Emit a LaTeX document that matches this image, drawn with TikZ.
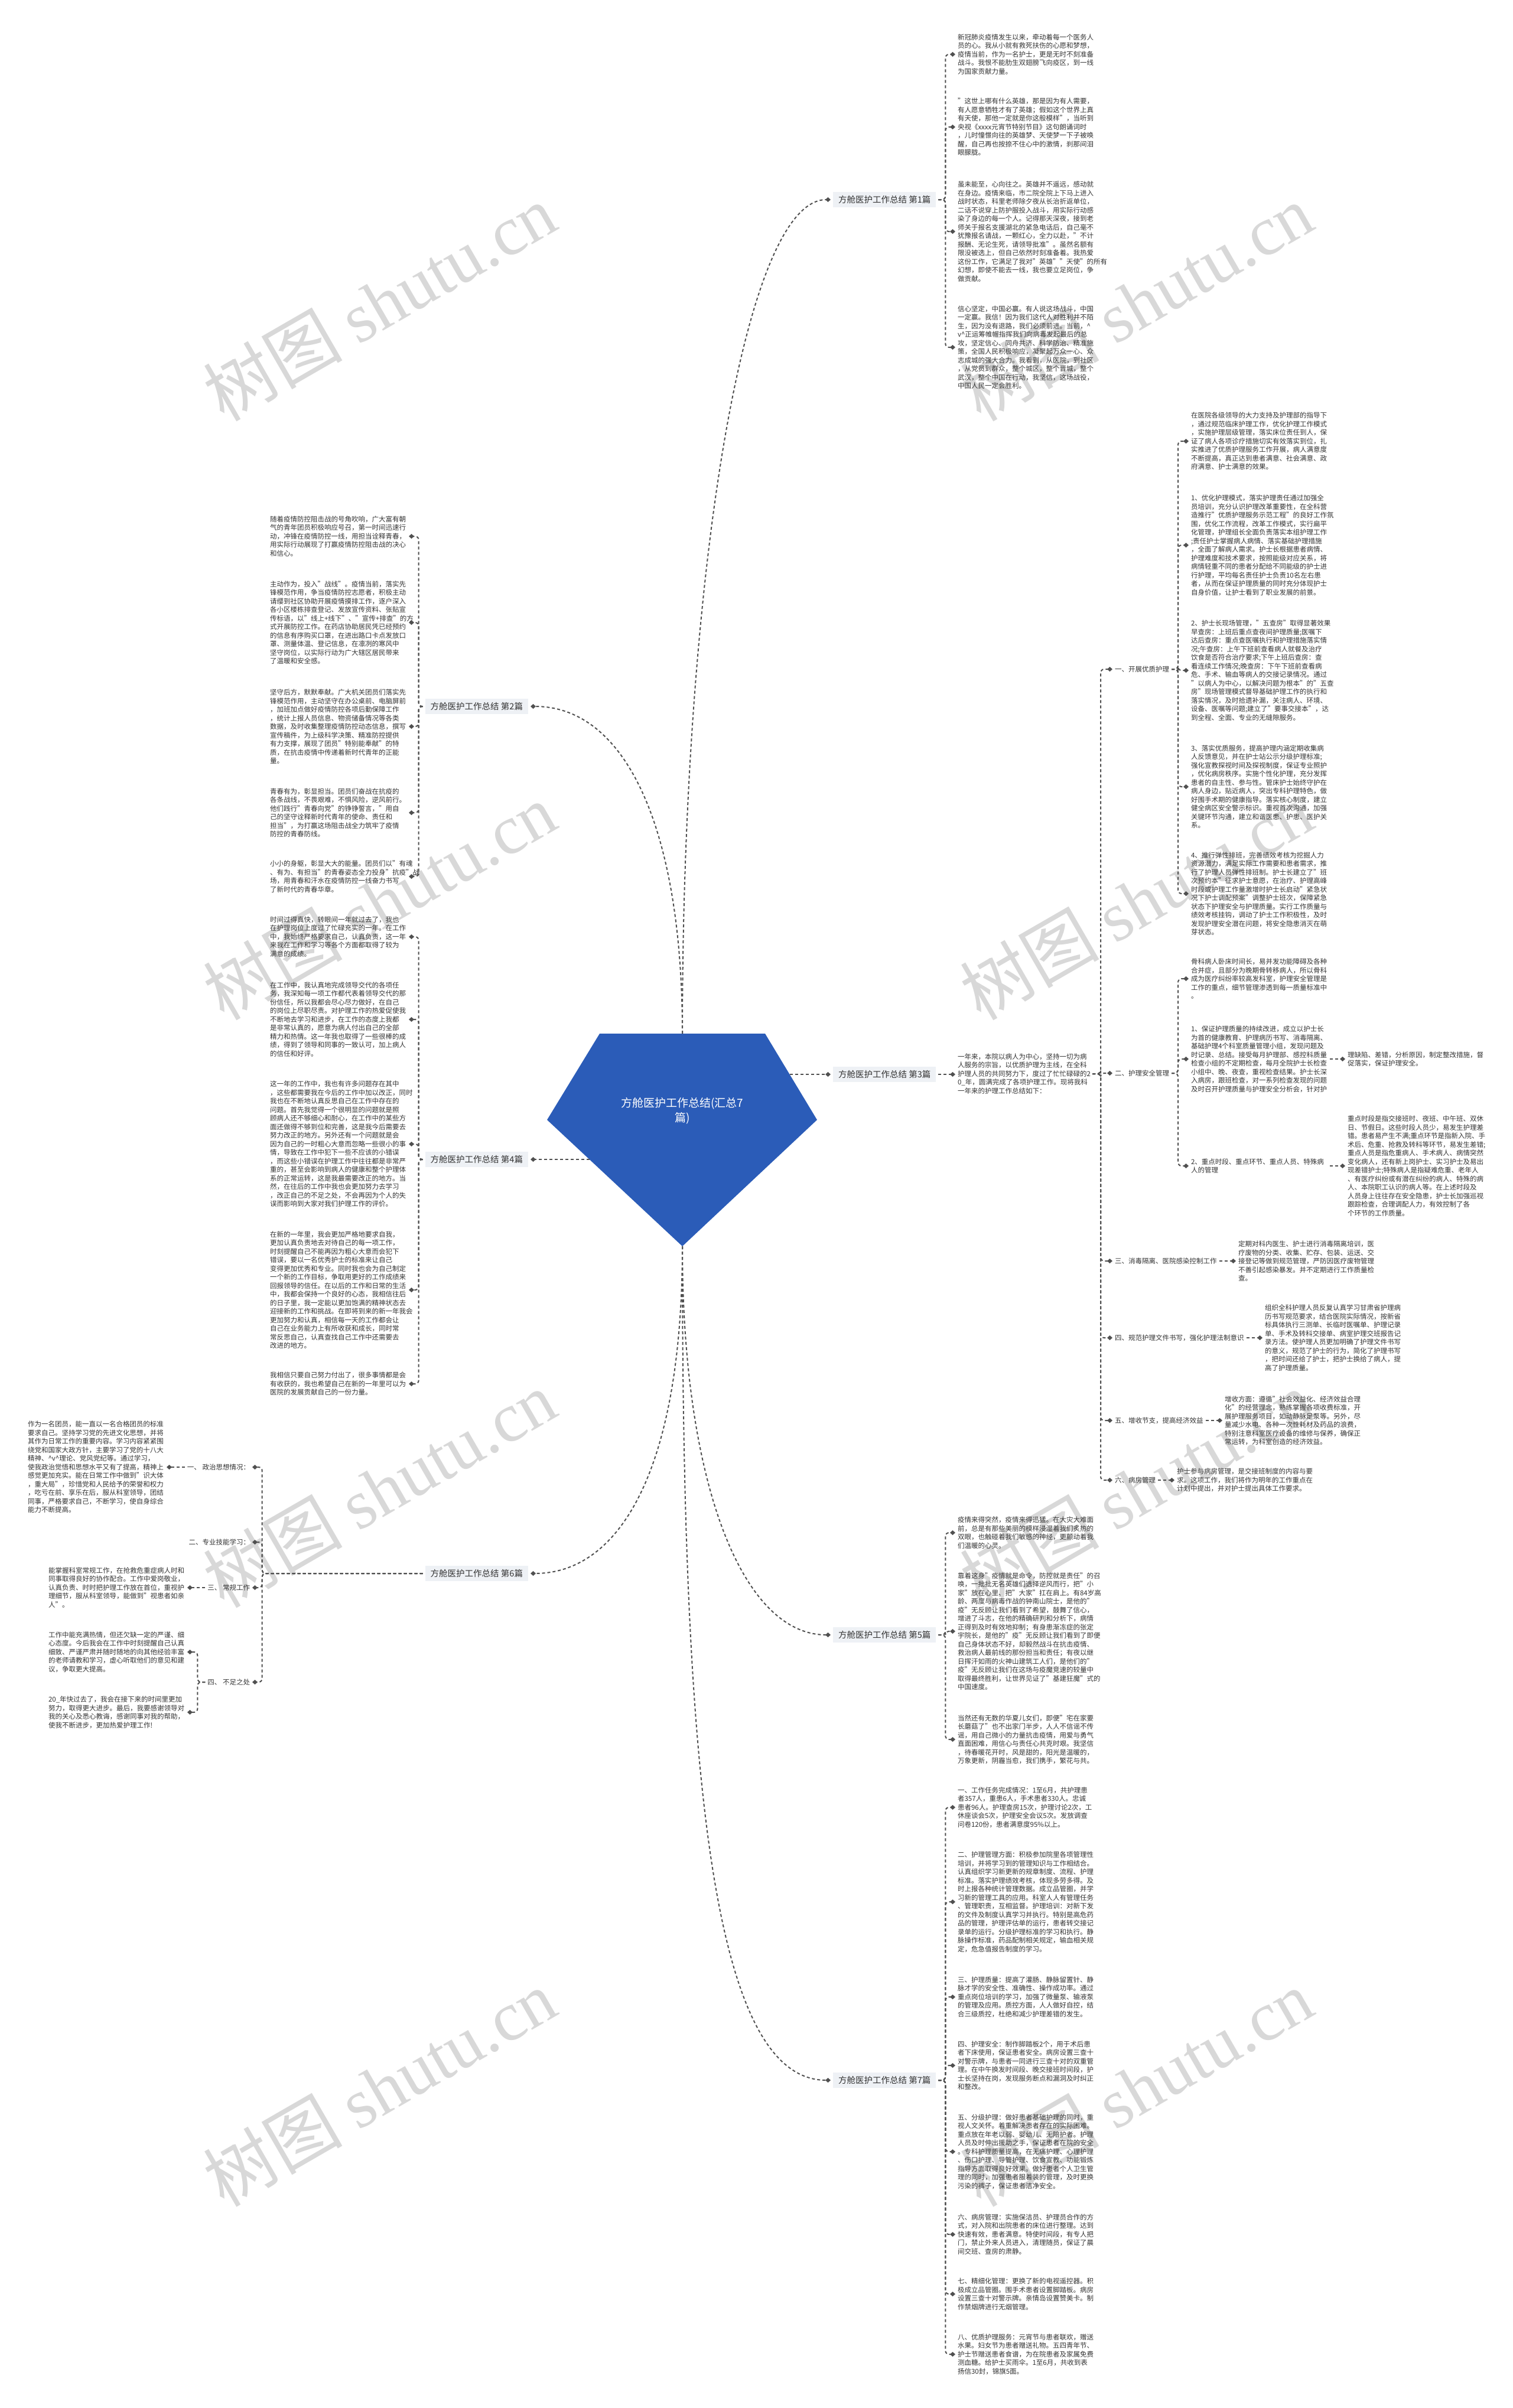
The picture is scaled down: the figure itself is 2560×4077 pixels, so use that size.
\documentclass[tikz,border=0pt]{standalone}
\usepackage{fontspec}
\setmainfont{Noto Sans CJK SC}
\newfontfamily\wmlat{Liberation Serif}
\usetikzlibrary{arrows.meta,calc}
\definecolor{txt}{HTML}{333333}
\definecolor{ln}{HTML}{505050}
\definecolor{lblbg}{HTML}{EEF1F5}
\definecolor{cblue}{HTML}{2B5CB8}
\definecolor{wmc}{HTML}{D8D8D8}
\newcommand{\crt}{\textasciicircum}
\tikzset{
 conn/.style={draw=ln, line width=2pt, dash pattern=on 5pt off 4pt, rounded corners=6pt, -{Diamond[length=9pt,width=8pt]}},
 body/.style={font=\fontsize{11.5}{14.5}\selectfont, text=txt, align=left, inner sep=0pt, outer sep=4pt},
 blk/.style={body, text width=231pt},
 branch/.style={fill=lblbg, font=\fontsize{14.5}{17}\selectfont, text=txt, inner xsep=9pt, inner ysep=6pt, outer sep=4pt},
 wmark/.style={text=wmc, rotate=30, inner sep=0pt, font=\fontsize{118}{118}\selectfont},
}
\begin{document}
\begin{tikzpicture}[x=1pt,y=-1pt]
\useasboundingbox (0,0) rectangle (2560,4077);
\fill[white] (0,0) rectangle (2560,4077);
% watermarks
\foreach \wx/\wy [count=\i] in {642/512,1923/512,642/1526,1923/1526,642/2521,1923/2521,642/3535,1923/3535}
  \node[wmark] (wm\i) at (\wx,\wy) {树图 {\wmlat shutu.cn}};

% central pentagon
\fill[cblue] (1015,1750) -- (1295,1750) -- (1383,1896) -- (1155,2110) -- (926,1896) -- cycle;
\node[font=\fontsize{19}{25}\selectfont, text=white, align=center] (center) at (1155,1881) {方舱医护工作总结(汇总7\\篇)};
\coordinate (ctop) at (1155,1750);
\coordinate (cbot) at (1155,2110);
\coordinate (cright) at (1337,1819);
\coordinate (cleft) at (998,1963);

% branch labels
\node[branch, anchor=west] (L1) at (1406,338) {方舱医护工作总结 第1篇};
\node[branch, anchor=east] (L2) at (898,1196) {方舱医护工作总结 第2篇};
\node[branch, anchor=west] (L3) at (1406,1819) {方舱医护工作总结 第3篇};
\node[branch, anchor=east] (L4) at (898,1963) {方舱医护工作总结 第4篇};
\node[branch, anchor=west] (L5) at (1406,2768) {方舱医护工作总结 第5篇};
\node[branch, anchor=east] (L6) at (898,2664) {方舱医护工作总结 第6篇};
\node[branch, anchor=west] (L7) at (1406,3522) {方舱医护工作总结 第7篇};

\draw[conn] (ctop) .. controls ($(ctop)+(0,-750)$) and ($(L1.west)+(-150,0)$) .. (L1.west);
\draw[conn] (ctop) .. controls ($(ctop)+(0,-350)$) and ($(L2.east)+(160,0)$) .. (L2.east);
\draw[conn] (cright) -- (L3.west);
\draw[conn] (cleft) -- (L4.east);
\draw[conn] (cbot) .. controls ($(cbot)+(0,380)$) and ($(L6.east)+(150,0)$) .. (L6.east);
\draw[conn] (cbot) .. controls ($(cbot)+(0,400)$) and ($(L5.west)+(-150,0)$) .. (L5.west);
\draw[conn] (cbot) .. controls ($(cbot)+(0,900)$) and ($(L7.west)+(-200,0)$) .. (L7.west);

% ---------- 第1篇
\node[blk, anchor=west] (p11) at (1617,92) {新冠肺炎疫情发生以来，牵动着每一个医务人\\员的心。我从小就有救死扶伤的心愿和梦想，\\疫情当前，作为一名护士，更是无时不刻准备\\战斗。我恨不能肋生双翅膀飞向疫区，到一线\\为国家贡献力量。};
\node[blk, anchor=west] (p12) at (1617,215) {"这世上哪有什么英雄，那是因为有人需要，\\有人愿意牺牲才有了英雄；假如这个世界上真\\有天使，那他一定就是你这般模样"，当听到\\央视《xxxx元宵节特别节目》这句朗诵词时\\，儿时憧憬向往的英雄梦、天使梦一下子被唤\\醒，自己再也按捺不住心中的激情，刹那间泪\\眼朦胧。};
\node[blk, anchor=west] (p13) at (1617,392) {虽未能至，心向往之。英雄并不遥远，感动就\\在身边。疫情来临，市二院全院上下马上进入\\战时状态，科里老师除夕夜从长治折返单位，\\二话不说穿上防护服投入战斗，用实际行动感\\染了身边的每一个人。记得那天深夜，接到老\\师关于报名支援湖北的紧急电话后，自己毫不\\犹豫报名请战，一颗红心，全力以赴，"不计\\报酬、无论生死，请领导批准"。虽然名额有\\限没被选上，但自己依然时刻准备着。我热爱\\这份工作，它满足了我对"英雄""天使"的所有\\幻想，即使不能去一线，我也要立足岗位，争\\做贡献。};
\node[blk, anchor=west] (p14) at (1617,588) {信心坚定，中国必赢。有人说这场战斗，中国\\一定赢。我信！因为我们这代人对胜利并不陌\\生，因为没有退路，我们必须前进。当前，\crt\\v\crt 正运筹帷幄指挥我们向病毒发起最后的总\\攻，坚定信心、同舟共济、科学防治、精准施\\策，全国人民积极响应，凝聚起万众一心、众\\志成城的强大合力。我看到，从医院，到社区\\，从党员到群众，整个城区，整个晋城，整个\\武汉，整个中国在行动，我坚信，这场战役，\\中国人民一定会胜利。};
\foreach \c in {p11,p12,p13,p14} \draw[conn] (L1.east) -- ++(12,0) |- (\c.west);

% ---------- 第2篇
\node[blk, anchor=east] (a1) at (692,908) {随着疫情防控阻击战的号角吹响，广大富有朝\\气的青年团员积极响应号召，第一时间迅速行\\动，冲锋在疫情防控一线，用担当诠释青春，\\用实际行动展现了打赢疫情防控阻击战的决心\\和信心。};
\node[blk, anchor=east] (a2) at (692,1054) {主动作为，投入"战线"。疫情当前，落实先\\锋模范作用，争当疫情防控志愿者，积极主动\\请缨到社区协助开展疫情摸排工作，逐户深入\\各小区楼栋排查登记、发放宣传资料、张贴宣\\传标语，以"线上+线下"、"宣传+排查"的方\\式开展防控工作。在药店协助居民凭已经预约\\的信息有序购买口罩，在进出路口卡点发放口\\罩、测量体温、登记信息，在凛冽的寒风中\\坚守岗位，以实际行动为广大辖区居民带来\\了温暖和安全感。};
\node[blk, anchor=east] (a3) at (692,1230) {坚守后方，默默奉献。广大机关团员们落实先\\锋模范作用，主动坚守在办公桌前、电脑屏前\\，加班加点做好疫情防控各项后勤保障工作\\，统计上报人员信息、物资储备情况等各类\\数据，及时收集整理疫情防控动态信息，撰写\\宣传稿件，为上级科学决策、精准防控提供\\有力支撑，展现了团员"特别能奉献"的特\\质，在抗击疫情中传递着新时代青年的正能\\量。};
\node[blk, anchor=east] (a4) at (692,1376) {青春有为，彰显担当。团员们奋战在抗疫的\\各条战线，不畏艰难，不惧风险，逆风前行。\\他们践行"青春向党"的铮铮誓言，"用自\\己的坚守诠释新时代青年的使命、责任和\\担当"，为打赢这场阻击战全力筑牢了疫情\\防控的青春防线。};
\node[blk, anchor=east] (a5) at (692,1484) {小小的身躯，彰显大大的能量。团员们以"有魂\\、有为、有担当"的青春姿态全力投身"抗疫"战\\场，用青春和汗水在疫情防控一线奋力书写\\了新时代的青春华章。};
\foreach \c in {a1,a2,a3,a4,a5} \draw[conn] (L2.west) -- ++(-7,0) |- (\c.east);

% ---------- 第3篇
\node[body, text width=224pt, anchor=west] (i3) at (1617,1818) {一年来，本院以病人为中心，坚持一切为病\\人服务的宗旨，以优质护理为主线，在全科\\护理人员的共同努力下，度过了忙忙碌碌的2\\0\_年，圆满完成了各项护理工作。现将我科\\一年来的护理工作总结如下：};
\draw[conn] (L3.east) -- (L3.east -| i3.west);
\node[body, anchor=west] (s1) at (1883,1133) {一、开展优质护理};
\node[body, anchor=west] (s2) at (1883,1817) {二、护理安全管理};
\node[body, anchor=west] (s3) at (1883,2135) {三、消毒隔离、医院感染控制工作};
\node[body, anchor=west] (s4) at (1883,2265) {四、规范护理文件书写，强化护理法制意识};
\node[body, anchor=west] (s5) at (1883,2405) {五、增收节支，提高经济效益};
\node[body, anchor=west] (s6) at (1883,2506) {六、病房管理};
\foreach \c in {s1,s2,s3,s4,s5,s6} \draw[conn] (i3.east) -- ++(14,0) |- (\c.west);

\node[blk, anchor=west] (s1a) at (2012,747) {在医院各级领导的大力支持及护理部的指导下\\，通过规范临床护理工作，优化护理工作模式\\，实施护理层级管理，落实床位责任到人，保\\证了病人各项诊疗措施切实有效落实到位，扎\\实推进了优质护理服务工作开展，病人满意度\\不断提高，真正达到患者满意、社会满意、政\\府满意、护士满意的效果。};
\node[blk, anchor=west] (s1b) at (2012,923) {1、优化护理模式，落实护理责任通过加强全\\员培训，充分认识护理改革重要性，在全科营\\造推行"优质护理服务示范工程"的良好工作氛\\围，优化工作流程，改革工作模式，实行扁平\\化管理，护理组长全面负责落实本组护理工作\\;责任护士掌握病人病情、落实基础护理措施\\，全面了解病人需求。护士长根据患者病情、\\护理难度和技术要求，按照能级对应关系，将\\病情轻重不同的患者分配给不同能级的护士进\\行护理，平均每名责任护士负责10名左右患\\者，从而在保证护理质量的同时充分体现护士\\自身价值，让护士看到了职业发展的前景。};
\node[blk, anchor=west] (s1c) at (2012,1135) {2、护士长现场管理，"五查房"取得显著效果\\早查房：上班后重点查夜间护理质量;医嘱下\\达后查房：重点查医嘱执行和护理措施落实情\\况;午查房：上午下班前查看病人就餐及治疗\\饮食是否符合治疗要求;下午上班后查房：查\\看连续工作情况;晚查房：下午下班前查看病\\危、手术、输血等病人的交接记录情况。通过\\"以病人为中心，以解决问题为根本"的"五查\\房"现场管理模式督导基础护理工作的执行和\\落实情况，及时拾遗补漏，关注病人、环境、\\设备、医嘱等问题;建立了"要事交接本"，达\\到全程、全面、专业的无缝隙服务。};
\node[blk, anchor=west] (s1d) at (2012,1332) {3、落实优质服务，提高护理内涵定期收集病\\人反馈意见，并在护士站公示分级护理标准;\\强化宣教探视时间及探视制度，保证专业照护\\，优化病房秩序。实施个性化护理，充分发挥\\患者的自主性、参与性。管床护士始终守护在\\病人身边，贴近病人，突出专科护理特色，做\\好围手术期的健康指导。落实核心制度，建立\\健全病区安全警示标识。重视首次沟通，加强\\关键环节沟通，建立和谐医患、护患、医护关\\系。};
\node[blk, anchor=west] (s1e) at (2012,1513) {4、推行弹性排班，完善绩效考核为挖掘人力\\资源潜力，满足实际工作需要和患者需求，推\\行了护理人员弹性排班制。护士长建立了"班\\次预约本"征求护士意愿，在治疗、护理高峰\\时段或护理工作量激增时护士长启动"紧急状\\况下护士调配预案"调整护士班次，保障紧急\\状态下护理安全与护理质量。实行工作质量与\\绩效考核挂钩，调动了护士工作积极性，及时\\发现护理安全潜在问题，将安全隐患消灭在萌\\芽状态。};
\foreach \c in {s1a,s1b,s1c,s1d,s1e} \draw[conn] (s1.east) -- ++(11,0) |- (\c.west);

\node[blk, anchor=west] (s2a) at (2012,1657) {骨科病人卧床时间长，易并发功能障碍及各种\\合并症，且部分为晚期骨转移病人，所以骨科\\成为医疗纠纷率较高发科室，护理安全管理是\\工作的重点，细节管理渗透到每一质量标准中\\。};
\node[blk, anchor=west] (s2b) at (2012,1793) {1、保证护理质量的持续改进，成立以护士长\\为首的健康教育、护理病历书写、消毒隔离、\\基础护理4个科室质量管理小组，发现问题及\\时记录、总结。接受每月护理部、感控科质量\\检查小组的不定期检查，每月全院护士长检查\\小组中、晚、夜查，重视检查结果。护士长深\\入病房，跟班检查，对一系列检查发现的问题\\及时召开护理质量与护理安全分析会，针对护};
\node[blk, anchor=west] (s2c) at (2012,1974) {2、重点时段、重点环节、重点人员、特殊病\\人的管理};
\foreach \c in {s2a,s2b,s2c} \draw[conn] (s2.east) -- ++(11,0) |- (\c.west);
\node[blk, anchor=west] (s2br) at (2277,1793) {理缺陷、差错，分析原因，制定整改措施，督\\促落实，保证护理安全。};
\node[blk, anchor=west] (s2cr) at (2277,1974) {重点时段是指交接班时、夜班、中午班、双休\\日、节假日。这些时段人员少，易发生护理差\\错。患者易产生不满;重点环节是指新入院、手\\术后、危重、抢救及转科等环节，易发生差错;\\重点人员是指危重病人、手术病人、病情突然\\变化病人，还有新上岗护士、实习护士及易出\\现差错护士;特殊病人是指疑难危重、老年人\\、有医疗纠纷或有潜在纠纷的病人、特殊的病\\人、本院职工认识的病人等。在上述时段及\\人员身上往往存在安全隐患，护士长加强巡视\\跟踪检查，合理调配人力，有效控制了各\\个环节的工作质量。};
\draw[conn] (s2b.east) -- (s2b.east -| s2br.west);
\draw[conn] (s2c.east) -- (s2c.east -| s2cr.west);

\node[blk, anchor=west] (s3r) at (2092,2135) {定期对科内医生、护士进行消毒隔离培训，医\\疗废物的分类、收集、贮存、包装、运送、交\\接登记等做到规范管理，严防因医疗废物管理\\不善引起感染暴发。并不定期进行工作质量检\\查。};
\node[blk, anchor=west] (s4r) at (2137,2265) {组织全科护理人员反复认真学习甘肃省护理病\\历书写规范要求，结合医院实际情况，按新省\\标具体执行三测单、长临时医嘱单、护理记录\\单、手术及转科交接单、病室护理交班报告记\\录方法。使护理人员更加明确了护理文件书写\\的意义，规范了护士的行为，简化了护理书写\\，把时间还给了护士，把护士换给了病人，提\\高了护理质量。};
\node[blk, anchor=west] (s5r) at (2069,2405) {增收方面：遵循"社会效益化、经济效益合理\\化"的经营理念，熟练掌握各项收费标准，开\\展护理服务项目，如动静脉足泵等。另外，尽\\量减少水电、各种一次性耗材及药品的浪费，\\特别注意科室医疗设备的维修与保养，确保正\\常运转，为科室创造的经济效益。};
\node[blk, anchor=west] (s6r) at (1988,2506) {护士参与病房管理，是交接班制度的内容与要\\求。这项工作，我们将作为明年的工作重点在\\计划中提出，并对护士提出具体工作要求。};
\draw[conn] (s3.east) -- (s3.east -| s3r.west);
\draw[conn] (s4.east) -- (s4.east -| s4r.west);
\draw[conn] (s5.east) -- (s5.east -| s5r.west);
\draw[conn] (s6.east) -- (s6.east -| s6r.west);

% ---------- 第4篇
\node[blk, anchor=east] (b1) at (692,1586) {时间过得真快，转眼间一年就过去了，我也\\在护理岗位上度过了忙碌充实的一年。在工作\\中，我始终严格要求自己，认真负责，这一年\\来我在工作和学习等各个方面都取得了较为\\满意的成绩。};
\node[blk, anchor=east] (b2) at (692,1726) {在工作中，我认真地完成领导交代的各项任\\务，我深知每一项工作都代表着领导交代的那\\份信任，所以我都会尽心尽力做好，在自己\\的岗位上尽职尽责。对护理工作的热爱促使我\\不断地去学习和进步，在工作的态度上我都\\是非常认真的，愿意为病人付出自己的全部\\精力和热情。这一年我也取得了一些很棒的成\\绩，得到了领导和同事的一致认可，加上病人\\的信任和好评。};
\node[blk, anchor=east] (b3) at (692,1937) {这一年的工作中，我也有许多问题存在其中\\，这些都需要我在今后的工作中加以改正，同时\\我也在不断地认真反思自己在工作中存在的\\问题。首先我觉得一个很明显的问题就是照\\顾病人还不够细心和耐心，在工作中的某些方\\面还做得不够到位和完善，这是我今后需要去\\努力改正的地方。另外还有一个问题就是会\\因为自己的一时粗心大意而忽略一些很小的事\\情，导致在工作中犯下一些不应该的小错误\\，而这些小错误在护理工作中往往都是非常严\\重的，甚至会影响到病人的健康和整个护理体\\系的正常运转，这是我最需要改正的地方。当\\然，在往后的工作中我也会更加努力去学习\\，改正自己的不足之处，不会再因为个人的失\\误而影响到大家对我们护理工作的评价。};
\node[blk, anchor=east] (b4) at (692,2184) {在新的一年里，我会更加严格地要求自我，\\更加认真负责地去对待自己的每一项工作，\\时刻提醒自己不能再因为粗心大意而会犯下\\错误，要以一名优秀护士的标准来让自己\\变得更加优秀和专业。同时我也会为自己制定\\一个新的工作目标，争取用更好的工作成绩来\\回报领导的信任。在以后的工作和日常的生活\\中，我都会保持一个良好的心态，我相信往后\\的日子里，我一定能以更加饱满的精神状态去\\迎接新的工作和挑战。在即将到来的新一年我会\\更加努力和认真，相信每一天的工作都会让\\自己在业务能力上有所收获和成长，同时常\\常反思自己，认真查找自己工作中还需要去\\改进的地方。};
\node[blk, anchor=east] (b5) at (692,2343) {我相信只要自己努力付出了，很多事情都是会\\有收获的，我也希望自己在新的一年里可以为\\医院的发展贡献自己的一份力量。};
\foreach \c in {b1,b2,b3,b4,b5} \draw[conn] (L4.west) -- ++(-7,0) |- (\c.east);

% ---------- 第5篇
\node[blk, anchor=west] (q1) at (1617,2595) {疫情来得突然，疫情来得迅猛。在大灾大难面\\前，总是有那些美丽的模样浸湿着我们炙热的\\双眼，也触碰着我们敏感的神经，更颤动着我\\们温暖的心灵。};
\node[blk, anchor=west] (q2) at (1617,2762) {靠着这身"疫情就是命令，防控就是责任"的召\\唤，一批批无名英雄们选择逆风而行，把"小\\家"放在心里、把"大家"扛在肩上。有84岁高\\龄、两度与病毒作战的钟南山院士，是他的"\\疫"无反顾让我们看到了希望，鼓舞了信心，\\增进了斗志，在他的精确研判和分析下，病情\\正得到及时有效地抑制；有身患渐冻症的张定\\宇院长，是他的"疫"无反顾让我们看到了即便\\自己身体状态不好，却毅然战斗在抗击疫情、\\救治病人最前线的那份担当和责任；有夜以继\\日挥汗如雨的火神山建筑工人们，是他们的"\\疫"无反顾让我们在这场与疫魔竞速的较量中\\取得最终胜利，让世界见证了"基建狂魔"式的\\中国速度。};
\node[blk, anchor=west] (q3) at (1617,2945) {当然还有无数的华夏儿女们，即便"宅在家要\\长蘑菇了"也不出家门半步，人人不信谣不传\\谣，用自己微小的力量抗击疫情，用爱与勇气\\直面困难，用信心与责任心共克时艰。我坚信\\，待春暖花开时，风是甜的，阳光是温暖的，\\万象更新，阴霾当愈，我们携手，繁花与共。};
\foreach \c in {q1,q2,q3} \draw[conn] (L5.east) -- ++(12,0) |- (\c.west);

% ---------- 第7篇
\node[blk, anchor=west] (r1) at (1617,3060) {一、工作任务完成情况：1至6月，共护理患\\者357人，重患6人，手术患者330人。忠诚\\患者96人。护理查房15次，护理讨论2次，工\\休座谈会5次，护理安全会议5次。发放调查\\问卷120份，患者满意度95\%以上。};
\node[blk, anchor=west] (r2) at (1617,3220) {二、护理管理方面：积极参加院里各项管理性\\培训，并将学习到的管理知识与工作相结合。\\认真组织学习新更新的规章制度、流程、护理\\标准。落实护理绩效考核，体现多劳多得。及\\时上报各种统计管理数据。成立品管圈，并学\\习新的管理工具的应用。科室人人有管理任务\\、管理职责，互相监督。护理培训：对新下发\\的文件及制度认真学习并执行。特别是高危药\\品的管理，护理评估单的运行，患者转交接记\\录单的运行。分级护理标准的学习和执行。静\\脉操作标准，药品配制相关规定，输血相关规\\定，危急值报告制度的学习。};
\node[blk, anchor=west] (r3) at (1617,3381) {三、护理质量：提高了灌肠、静脉留置针、静\\脉才学的安全性、准确性、操作成功率。通过\\重点岗位培训的学习，加强了微量泵、输液泵\\的管理及应用。质控方面，人人做好自控，结\\合三级质控，杜绝和减少护理差错的发生。};
\node[blk, anchor=west] (r4) at (1617,3497) {四、护理安全：制作脚踏板2个，用于术后患\\者下床使用，保证患者安全。病房设置三查十\\对警示牌，与患者一同进行三查十对的双重管\\理。在中午换发时间段、晚交接班时间段，护\\士长坚持在岗，发现服务断点和漏洞及时纠正\\和整改。};
\node[blk, anchor=west] (r5) at (1617,3643) {五、分级护理：做好患者基础护理的同时，重\\视人文关怀。着重解决患者存在的实际困难。\\重点放在年老以弱、婴幼儿、无陪护者。护理\\人员及时伸出援助之手，保证患者在院的安全\\。专科护理质量提高，在无痛护理、心理护理\\、伤口护理、导管护理、饮食宣教、功能锻炼\\指导方面取得良好效果。做好患者个人卫生管\\理的同时，加强患者服着装的管理，及时更换\\污染的裤子，保证患者洁净安全。};
\node[blk, anchor=west] (r6) at (1617,3783) {六、病房管理：实施保洁员、护理员合作的方\\式，对入院和出院患者的床位进行整理。达到\\快速有效，患者满意。特使时间段，有专人把\\门，禁止外来人员进入，清理随员，保证了晨\\间交班、查房的肃静。};
\node[blk, anchor=west] (r7) at (1617,3884) {七、精细化管理：更换了新的电视遥控器。积\\极成立品管圈。围手术患者设置脚踏板。病房\\设置三查十对警示牌。亲情岛设置赞美卡。制\\作禁烟牌进行无烟管理。};
\node[blk, anchor=west] (r8) at (1617,3986) {八、优质护理服务：元宵节与患者联欢，赠送\\水果。妇女节为患者赠送礼物。五四青年节、\\护士节赠送患者食谱，为在院患者及家属免费\\测血糖。给护士买雨伞。1至6月，共收到表\\扬信30封，锦旗5面。};
\foreach \c in {r1,r2,r3,r4,r5,r6,r7,r8} \draw[conn] (L7.east) -- ++(12,0) |- (\c.west);

% ---------- 第6篇
\node[body, anchor=east] (t1) at (427,2484) {一、 政治思想情况：};
\node[body, anchor=east] (t2) at (427,2611) {二、专业技能学习：};
\node[body, anchor=east] (t3) at (427,2688) {三、 常规工作};
\node[body, anchor=east] (t4) at (427,2848) {四、 不足之处};
\foreach \c in {t1,t2,t3,t4} \draw[conn] (L6.west) -- ++(-272,0) |- (\c.east);
\node[blk, anchor=east] (u1) at (282,2484) {作为一名团员，能一直以一名合格团员的标准\\要求自己。坚持学习党的先进文化思想，并将\\其作为日常工作的重要内容。学习内容紧紧围\\绕党和国家大政方针，主要学习了党的十八大\\精神、\crt v\crt 理论、党风党纪等。通过学习，\\使我政治觉悟和思想水平又有了提高，精神上\\感觉更加充实。能在日常工作中做到"识大体\\，重大局"，珍惜党和人民给予的荣誉和权力\\，吃亏在前、享乐在后，服从科室领导，团结\\同事，严格要求自己，不断学习，使自身综合\\能力不断提高。};
\node[blk, anchor=east] (u3) at (317,2688) {能掌握科室常规工作，在抢救危重症病人时和\\同事取得良好的协作配合。工作中爱岗敬业，\\认真负责、时时把护理工作放在首位，重视护\\理细节，服从科室领导，能做到"视患者如亲\\人"。};
\node[blk, anchor=east] (u4a) at (317,2797) {工作中能充满热情，但还欠缺一定的严谨、细\\心态度。今后我会在工作中时刻提醒自己认真\\细致、严谨严肃并随时随地的向其他经验丰富\\的老师请教和学习，虚心听取他们的意见和建\\议，争取更大提高。};
\node[blk, anchor=east] (u4b) at (317,2899) {20\_年快过去了，我会在接下来的时间里更加\\努力，取得更大进步。最后，我要感谢领导对\\我的关心及悉心教诲，感谢同事对我的帮助，\\使我不断进步，更加热爱护理工作!};
\draw[conn] (t1.west) -- (t1.west -| u1.east);
\draw[conn] (t3.west) -- (t3.west -| u3.east);
\foreach \c in {u4a,u4b} \draw[conn] (t4.west) -- ++(-13,0) |- (\c.east);
\end{tikzpicture}
\end{document}
